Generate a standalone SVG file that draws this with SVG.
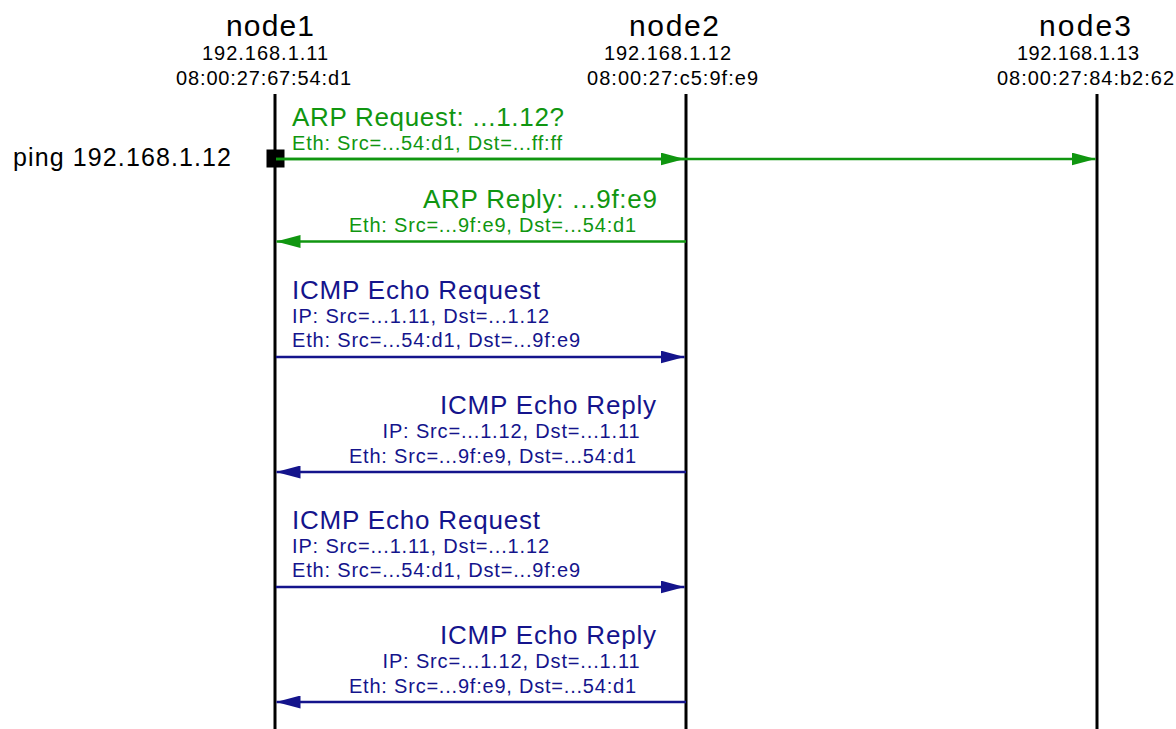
<svg xmlns="http://www.w3.org/2000/svg" width="1176" height="729" viewBox="0 0 1176 729">
  <style>
    text { font-family: "Liberation Sans", Arial, Helvetica, sans-serif; }
    .name { font-size: 30px; fill: #000; }
    .addr { font-size: 20px; fill: #000; }
    .ping { font-size: 25px; fill: #000; }
    .life { stroke: #000; stroke-width: 3; fill: none; }
    .arp { fill: #109610; }
    .icmp { fill: #14148c; }
    .big { font-size: 26px; }
    .small { font-size: 20px; }
    .msg-arp { stroke: #109610; stroke-width: 2.5; fill: none; marker-end: url(#head-arp); }
    .msg-icmp { stroke: #14148c; stroke-width: 2.5; fill: none; marker-end: url(#head-icmp); }
  </style>
  <defs>
    <marker id="head-arp" markerUnits="userSpaceOnUse" markerWidth="24" markerHeight="13" refX="24" refY="6.5" orient="auto">
      <path d="M0,0 L24,6.5 L0,13 z" fill="#109610"/>
    </marker>
    <marker id="head-icmp" markerUnits="userSpaceOnUse" markerWidth="24" markerHeight="13" refX="24" refY="6.5" orient="auto">
      <path d="M0,0 L24,6.5 L0,13 z" fill="#14148c"/>
    </marker>
  </defs>
  <rect width="1176" height="729" fill="#fff"/>

  <!-- hosts with their lifelines -->
  <g id="node1">
    <text class="name" x="226" y="35.5" textLength="88">node1</text>
    <text class="addr" x="202" y="60" textLength="126">192.168.1.11</text>
    <text class="addr" x="176" y="85" textLength="175">08:00:27:67:54:d1</text>
    <line class="life" x1="275" y1="94" x2="275" y2="729"/>
  </g>
  <g id="node2">
    <text class="name" x="629" y="35.5" textLength="90">node2</text>
    <text class="addr" x="604" y="60" textLength="127">192.168.1.12</text>
    <text class="addr" x="587" y="85" textLength="171">08:00:27:c5:9f:e9</text>
    <line class="life" x1="686" y1="94" x2="686" y2="729"/>
  </g>
  <g id="node3">
    <text class="name" x="1039" y="35.5" textLength="92">node3</text>
    <text class="addr" x="1017" y="60" textLength="122">192.168.1.13</text>
    <text class="addr" x="997" y="85" textLength="177">08:00:27:84:b2:62</text>
    <line class="life" x1="1097" y1="94" x2="1097" y2="729"/>
  </g>

  <!-- ping command issued on node1 -->
  <g id="ping">
    <text class="ping" x="13" y="166" textLength="218">ping 192.168.1.12</text>
    <rect x="266.5" y="149.5" width="18" height="18" fill="#000"/>
  </g>

  <!-- message labels -->
  <g id="labels">
    <text class="arp big" x="292" y="126" textLength="272">ARP Request: ...1.12?</text>
    <text class="arp small" x="292" y="150" textLength="270">Eth: Src=...54:d1, Dst=...ff:ff</text>
    <text class="arp big" x="423" y="208" textLength="234">ARP Reply: ...9f:e9</text>
    <text class="arp small" x="349" y="231.5" textLength="287">Eth: Src=...9f:e9, Dst=...54:d1</text>

    <text class="icmp big" x="292" y="299.3" textLength="248">ICMP Echo Request</text>
    <text class="icmp small" x="292" y="323.3" textLength="257">IP: Src=...1.11, Dst=...1.12</text>
    <text class="icmp small" x="292" y="347.3" textLength="288">Eth: Src=...54:d1, Dst=...9f:e9</text>
    <text class="icmp big" x="440" y="414" textLength="216">ICMP Echo Reply</text>
    <text class="icmp small" x="382.5" y="437.7" textLength="257">IP: Src=...1.12, Dst=...1.11</text>
    <text class="icmp small" x="349" y="462.7" textLength="287">Eth: Src=...9f:e9, Dst=...54:d1</text>

    <text class="icmp big" x="292" y="529.3" textLength="248">ICMP Echo Request</text>
    <text class="icmp small" x="292" y="553.3" textLength="257">IP: Src=...1.11, Dst=...1.12</text>
    <text class="icmp small" x="292" y="577.3" textLength="288">Eth: Src=...54:d1, Dst=...9f:e9</text>
    <text class="icmp big" x="440" y="644" textLength="216">ICMP Echo Reply</text>
    <text class="icmp small" x="382.5" y="667.7" textLength="257">IP: Src=...1.12, Dst=...1.11</text>
    <text class="icmp small" x="349" y="692.7" textLength="287">Eth: Src=...9f:e9, Dst=...54:d1</text>
  </g>

  <!-- messages between hosts -->
  <g id="connectors">
    <line class="msg-arp" x1="276" y1="159" x2="1095.5" y2="159"/>
    <line class="msg-arp" x1="276" y1="159" x2="684.5" y2="159"/>
    <line class="msg-arp" x1="686" y1="241.5" x2="276.5" y2="241.5"/>
    <line class="msg-icmp" x1="276" y1="357" x2="684.5" y2="357"/>
    <line class="msg-icmp" x1="686" y1="472" x2="276.5" y2="472"/>
    <line class="msg-icmp" x1="276" y1="587" x2="684.5" y2="587"/>
    <line class="msg-icmp" x1="686" y1="702" x2="276.5" y2="702"/>
  </g>
</svg>
